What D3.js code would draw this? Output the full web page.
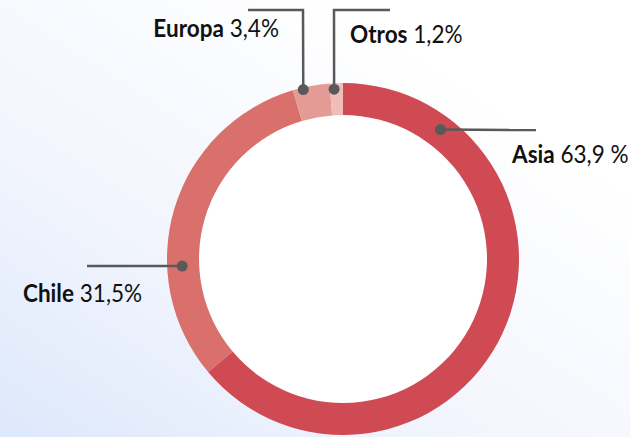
<!DOCTYPE html>
<html>
<head>
    <script src="https://cdnjs.cloudflare.com/ajax/libs/d3/7.8.5/d3.min.js"></script>
    <style>
        body { margin: 0; }
        svg { display: block; font-family: Lato, "Open Sans", sans-serif; }
        .lbl { font-size: 24.5px; fill: #111; }
        .lbl .name { font-weight: bold; }
    </style>
</head>
<body>
    <script>
        // data, in drawing order (clockwise from 12 o'clock)
        var regions = ["Asia", "Chile", "Europa", "Otros"];
        var shares = [63.9, 31.5, 3.4, 1.2];
        var shareLabels = ["63,9 %", "31,5%", "3,4%", "1,2%"];
        var colors = ["#cf4a52", "#d9706c", "#e59b95", "#efbeb8"];

        var w = 630, h = 437;
        var cx = 343, cy = 259;
        var outerR = 176, innerR = 144;
        var squeeze = 0.92; // narrow the label font a little

        // leader layout: angle of dot (deg), dot radius, elbow path and text spot
        var leaders = {
            "Asia":   { ang: 37,    r: 162, pts: [[536, 130]], tx: 512, ty: 163, anchor: "start" },
            "Chile":  { ang: 267.5, r: 161, pts: [[87, 266]], tx: 23, ty: 302, anchor: "start" },
            "Europa": { ang: -13.2, r: 174, pts: [[303, 10], [248, 10]], tx: 279, ty: 37, anchor: "end" },
            "Otros":  { ang: -3,    r: 170, pts: [[334, 10], [390, 10]], tx: 350, ty: 43, anchor: "start" }
        };

        var svg = d3.select("body").append("svg")
            .attr("width", w)
            .attr("height", h);

        // soft bluish backdrop
        var defs = svg.append("defs");
        var grad = defs.append("linearGradient")
            .attr("id", "bg")
            .attr("x1", "0").attr("y1", "1")
            .attr("x2", "0.75").attr("y2", "0.2");
        grad.append("stop").attr("offset", "0").attr("stop-color", "#dde8fb");
        grad.append("stop").attr("offset", "0.45").attr("stop-color", "#f2f5fd");
        grad.append("stop").attr("offset", "1").attr("stop-color", "#ffffff");
        svg.append("rect").attr("width", w).attr("height", h).attr("fill", "url(#bg)");

        var data = regions.map(function (r, i) {
            return { region: r, value: shares[i], label: shareLabels[i], color: colors[i] };
        });

        var pie = d3.pie().sort(null).value(function (d) { return d.value; });
        var arc = d3.arc().innerRadius(innerR).outerRadius(outerR);

        var g = svg.append("g").attr("transform", "translate(" + cx + "," + cy + ")");

        // white hole
        g.append("circle").attr("r", innerR).attr("fill", "#fff");

        g.selectAll("path.slice")
            .data(pie(data))
            .enter()
            .append("path")
            .attr("class", "slice")
            .attr("d", arc)
            .attr("fill", function (d) { return d.data.color; });

        // leaders
        data.forEach(function (d) {
            var L = leaders[d.region];
            var a = L.ang * Math.PI / 180;
            var dx = cx + L.r * Math.sin(a);
            var dy = cy - L.r * Math.cos(a);
            var pts = [[dx, dy]].concat(L.pts);

            svg.append("path")
                .attr("d", d3.line()(pts))
                .attr("fill", "none")
                .attr("stroke", "#595959")
                .attr("stroke-width", 2.5);

            svg.append("circle")
                .attr("cx", dx).attr("cy", dy)
                .attr("r", 5.5)
                .attr("fill", "#595959");

            var t = svg.append("text")
                .attr("class", "lbl")
                .attr("transform", "translate(" + L.tx + "," + L.ty + ") scale(" + squeeze + ",1)")
                .attr("text-anchor", L.anchor);
            t.append("tspan").attr("class", "name").text(d.region);
            t.append("tspan").text(" " + d.label);
        });
    </script>
</body>
</html>
